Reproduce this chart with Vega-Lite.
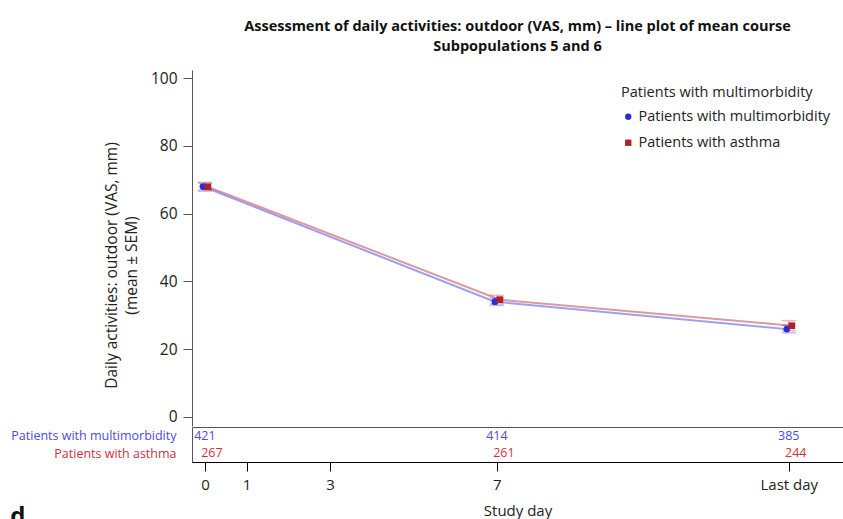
{
  "$schema": "https://vega.github.io/schema/vega-lite/v6.json",
  "padding": {"left": 10, "top": 19, "right": 0, "bottom": 0},
  "spacing": 0,
  "title": {"text": "d", "orient": "bottom", "anchor": "start", "frame": "bounds", "fontSize": 24, "fontWeight": "bold", "color": "#111", "offset": -14},
  "config": {
    "font": "Open Sans",
    "axis": {"labelColor": "#222", "titleColor": "#222", "titleFontWeight": "normal", "grid": false}
  },
  "datasets": {
    "stats": [
      {"group": "Patients with multimorbidity", "day": 0, "mean": 68.0, "lo": 67.0, "hi": 69.0, "n": 421},
      {"group": "Patients with multimorbidity", "day": 7, "mean": 34.0, "lo": 32.9, "hi": 35.1, "n": 414},
      {"group": "Patients with multimorbidity", "day": 14, "mean": 25.9, "lo": 24.8, "hi": 27.0, "n": 385},
      {"group": "Patients with asthma", "day": 0, "mean": 67.9, "lo": 66.6, "hi": 69.2, "n": 267},
      {"group": "Patients with asthma", "day": 7, "mean": 34.6, "lo": 33.3, "hi": 35.9, "n": 261},
      {"group": "Patients with asthma", "day": 14, "mean": 26.9, "lo": 25.4, "hi": 28.4, "n": 244}
    ]
  },
  "resolve": {"scale": {"y": "independent", "color": "independent"}},
  "vconcat": [
    {
      "width": 651,
      "height": 356,
      "view": {"stroke": null},
      "title": {
        "text": ["Assessment of daily activities: outdoor (VAS, mm) – line plot of mean course", "Subpopulations 5 and 6"],
        "fontSize": 14.5, "fontWeight": "bold", "frame": "group", "anchor": "middle", "offset": 16, "color": "#111", "lineHeight": 19.5
      },
      "data": {"name": "stats"},
      "encoding": {
        "x": {"field": "day", "type": "quantitative", "scale": {"domain": [-0.31, 15.3], "nice": false, "zero": false}, "axis": null},
        "color": {
          "field": "group", "type": "nominal",
          "scale": {"domain": ["Patients with multimorbidity", "Patients with asthma"], "range": ["#2b2bdc", "#b0202c"]},
          "legend": {
            "orient": "none", "legendX": 429, "legendY": 16, "title": "Patients with multimorbidity",
            "titleFontSize": 14.5, "titleFontWeight": "normal", "titleColor": "#222", "titleLimit": 300,
            "labelFontSize": 14.5, "labelColor": "#222", "symbolSize": 40, "rowPadding": 11,
            "titlePadding": 9, "labelLimit": 300, "labelOffset": 3, "symbolOpacity": 1, "symbolStrokeWidth": 0,
            "encode": {
              "symbols": {
                "update": {
                  "shape": {"signal": "datum.value == 'Patients with asthma' ? 'square' : 'circle'"},
                  "opacity": {"value": 1},
                  "fillOpacity": {"value": 1}
                }
              }
            }
          }
        }
      },
      "layer": [
        {
          "mark": {"type": "errorbar", "ticks": {"size": 14, "thickness": 1.5}, "opacity": 0.3, "xOffset": {"expr": "datum.group == 'Patients with asthma' ? 3 : -2"}},
          "encoding": {
            "y": {
              "field": "lo", "type": "quantitative", "scale": {"domain": [-2.7, 102.4], "nice": false, "zero": false},
              "axis": {
                "values": [0, 20, 40, 60, 80, 100],
                "title": ["Daily activities: outdoor (VAS, mm)", "(mean ± SEM)"],
                "titleFontSize": 15.5, "labelFontSize": 15.5, "tickSize": 9, "labelPadding": 6,
                "domainColor": "#555", "tickColor": "#555", "titlePadding": 11, "titleLineHeight": 19.5,
                "titleY": 195
              }
            },
            "y2": {"field": "hi"}
          }
        },
        {
          "mark": {"type": "line", "strokeWidth": 2, "opacity": 0.45, "xOffset": {"expr": "datum.group == 'Patients with asthma' ? 3 : -2"}},
          "encoding": {
            "y": {"field": "mean", "type": "quantitative", "title": ["Daily activities: outdoor (VAS, mm)", "(mean ± SEM)"]}
          }
        },
        {
          "mark": {"type": "point", "filled": true, "opacity": 1, "size": 45, "xOffset": {"expr": "datum.group == 'Patients with asthma' ? 3 : -2"}},
          "encoding": {
            "y": {"field": "mean", "type": "quantitative", "title": ["Daily activities: outdoor (VAS, mm)", "(mean ± SEM)"]},
            "shape": {
              "field": "group", "type": "nominal",
              "scale": {"domain": ["Patients with multimorbidity", "Patients with asthma"], "range": ["circle", "square"]}
            }
          }
        }
      ]
    },
    {
      "width": 651,
      "height": 35,
      "view": {"stroke": "#555"},
      "data": {"name": "stats"},
      "mark": {"type": "text", "fontSize": 12.5, "dx": {"expr": "datum.group == 'Patients with asthma' ? 7 : 0"}},
      "encoding": {
        "x": {
          "field": "day", "type": "quantitative",
          "scale": {"domain": [-0.31, 15.3], "nice": false, "zero": false},
          "axis": {
            "values": [0, 1, 3, 7, 14],
            "labelExpr": "datum.value == 14 ? 'Last day' : datum.label",
            "title": "Study day", "titleFontSize": 15, "labelFontSize": 15,
            "tickSize": 9, "domainColor": "#000", "tickColor": "#000", "labelPadding": 6, "titlePadding": 11
          }
        },
        "y": {
          "field": "group", "type": "nominal",
          "sort": ["Patients with multimorbidity", "Patients with asthma"],
          "axis": {
            "title": null, "ticks": false, "domain": false, "labelFontSize": 12.5, "labelPadding": 16,
            "labelColor": {"condition": {"test": "datum.value == 'Patients with asthma'", "value": "#d03040"}, "value": "#4a4aee"}
          }
        },
        "text": {"field": "n", "type": "quantitative"},
        "color": {
          "field": "group", "type": "nominal",
          "scale": {"domain": ["Patients with multimorbidity", "Patients with asthma"], "range": ["#4a4aee", "#d03040"]},
          "legend": null
        }
      }
    }
  ]
}
